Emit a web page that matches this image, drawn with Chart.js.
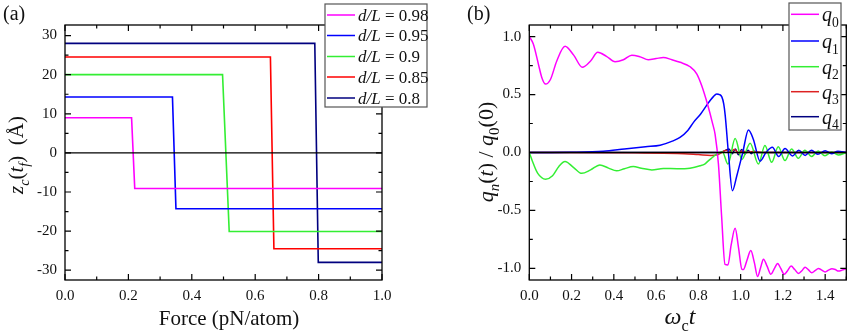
<!DOCTYPE html>
<html>
<head>
<meta charset="utf-8">
<script src="https://cdn.jsdelivr.net/npm/chart.js@4"></script>
<style>
  body { margin: 0; background: #fff; }
  #wrap { position: relative; width: 850px; height: 336px; }
  #chartA { position: absolute; left: 0; top: 0; }
  #chartB { position: absolute; left: 430px; top: 0; }
</style>
</head>
<body>
<div id="wrap">
  <canvas id="chartA" width="430" height="336"></canvas>
  <canvas id="chartB" width="420" height="336"></canvas>
</div>
<script>
// ---- panel (a): final centre position vs. applied force ----
const forceTicks = [0, 0.2, 0.4, 0.6, 0.8, 1.0];
const forceMinor = [0.1, 0.3, 0.5, 0.7, 0.9];
const zcTicks = [-30, -20, -10, 0, 10, 20, 30];
const zcMinor = [-25, -15, -5, 5, 15, 25];

const dlLabels = ['0.98', '0.95', '0.9', '0.85', '0.8'];
const dlColors = ['#ff00ff', '#0000ff', '#33ee33', '#ff0000', '#00007f'];
const dl098X = [0, 0.21, 0.22, 1.0];
const dl098Y = [9.0, 9.0, -9.1, -9.1];
const dl095X = [0, 0.339, 0.35, 1.0];
const dl095Y = [14.3, 14.3, -14.3, -14.3];
const dl090X = [0, 0.497, 0.518, 1.0];
const dl090Y = [20.0, 20.0, -20.1, -20.1];
const dl085X = [0, 0.648, 0.659, 1.0];
const dl085Y = [24.5, 24.5, -24.5, -24.5];
const dl080X = [0, 0.788, 0.799, 1.0];
const dl080Y = [28.0, 28.0, -28.0, -28.0];

// ---- panel (b): mode amplitudes vs. time ----
const timeTicks = [0, 0.2, 0.4, 0.6, 0.8, 1.0, 1.2, 1.4];
const timeMinor = [0.1, 0.3, 0.5, 0.7, 0.9, 1.1, 1.3, 1.5];
const qTicks = [-1.0, -0.5, 0, 0.5, 1.0];
const qMinor = [-0.75, -0.25, 0.25, 0.75];

const qLabels = ['0', '1', '2', '3', '4'];
const qColors = ['#ff00ff', '#0000ff', '#33ee33', '#dd2222', '#00007f'];

const q0T = [0, 0.019, 0.043, 0.059, 0.077, 0.10, 0.13, 0.169, 0.21, 0.251, 0.29, 0.324, 0.365, 0.406, 0.445, 0.485, 0.525, 0.563, 0.60, 0.634, 0.675, 0.714, 0.761, 0.793, 0.816, 0.843, 0.868, 0.879, 0.895, 0.91, 0.926, 0.94, 0.955, 0.974, 0.99, 1.006, 1.013, 1.03, 1.048, 1.065, 1.08, 1.095, 1.108, 1.125, 1.143, 1.16, 1.175, 1.19, 1.206, 1.222, 1.239, 1.256, 1.274, 1.29, 1.305, 1.32, 1.337, 1.352, 1.368, 1.384, 1.40, 1.416, 1.432, 1.448, 1.463, 1.48, 1.498];
const q0V = [1.0, 0.936, 0.763, 0.648, 0.59, 0.63, 0.79, 0.916, 0.84, 0.735, 0.79, 0.864, 0.83, 0.783, 0.80, 0.84, 0.825, 0.80, 0.81, 0.82, 0.80, 0.778, 0.74, 0.677, 0.576, 0.418, 0.245, 0.158, -0.1, -0.55, -0.965, -0.97, -0.80, -0.654, -0.82, -1.008, -1.01, -0.93, -0.845, -0.95, -1.07, -0.99, -0.92, -0.98, -1.05, -1.0, -0.957, -1.0, -1.05, -1.02, -0.98, -1.01, -1.043, -1.02, -0.99, -1.01, -1.037, -1.02, -1.0, -1.015, -1.03, -1.015, -1.003, -1.01, -1.023, -1.015, -1.003];

const q1T = [0, 0.2, 0.35, 0.45, 0.55, 0.619, 0.68, 0.713, 0.75, 0.777, 0.81, 0.848, 0.87, 0.887, 0.9, 0.911, 0.92, 0.927, 0.942, 0.961, 0.982, 1.01, 1.037, 1.06, 1.092, 1.12, 1.15, 1.18, 1.21, 1.245, 1.275, 1.305, 1.335, 1.365, 1.40, 1.43, 1.46, 1.5];
const q1V = [0, 0.002, 0.01, 0.03, 0.05, 0.063, 0.10, 0.13, 0.19, 0.26, 0.33, 0.43, 0.48, 0.505, 0.50, 0.48, 0.42, 0.32, 0.0, -0.33, -0.2, 0.0, 0.195, 0.115, -0.075, 0.0, 0.045, -0.035, 0.035, -0.03, 0.02, -0.025, 0.02, -0.015, 0.015, -0.01, 0.01, 0.0];

const q2T = [0, 0.02, 0.04, 0.077, 0.11, 0.14, 0.169, 0.21, 0.248, 0.29, 0.334, 0.375, 0.413, 0.45, 0.492, 0.53, 0.58, 0.634, 0.70, 0.76, 0.808, 0.83, 0.847, 0.865, 0.886, 0.914, 0.94, 0.974, 1.006, 1.045, 1.084, 1.115, 1.147, 1.178, 1.21, 1.241, 1.273, 1.304, 1.336, 1.367, 1.399, 1.43, 1.462, 1.5];
const q2V = [0, -0.1, -0.18, -0.23, -0.2, -0.12, -0.078, -0.13, -0.18, -0.15, -0.107, -0.135, -0.158, -0.14, -0.121, -0.135, -0.15, -0.138, -0.14, -0.135, -0.115, -0.10, -0.072, -0.045, -0.014, 0.005, -0.1, 0.12, -0.06, 0.08, -0.1, 0.06, -0.085, 0.05, -0.07, 0.03, -0.05, 0.02, -0.035, 0.012, -0.028, 0.005, -0.022, 0.0];

const q3T = [0, 0.5, 0.7, 0.8, 0.86, 0.89, 0.91, 0.93, 0.95, 0.97, 0.99, 1.01, 1.03, 1.06, 1.1, 1.5];
const q3V = [0, -0.003, -0.008, -0.018, -0.025, -0.02, 0.0, 0.02, 0.005, 0.025, -0.005, 0.015, 0.0, 0.008, 0, 0];

const q4T = [0, 0.9, 0.93, 0.945, 0.96, 0.975, 0.99, 1.005, 1.02, 1.035, 1.05, 1.065, 1.08, 1.1, 1.5];
const q4V = [0, 0, 0.02, 0.03, -0.01, 0.03, -0.02, 0.025, -0.015, 0.02, -0.01, 0.01, 0, 0, 0];

const SERIF = '"Liberation Serif", "DejaVu Serif", serif';

function pts(xs, ys) {
  return xs.map((x, i) => ({ x: x, y: ys[i] }));
}

// draws a run of text pieces; piece = {t, it, sub}
function richWidth(ctx, parts, size) {
  let w = 0;
  for (const p of parts) {
    const s = p.sub ? size * 0.68 : size;
    ctx.font = (p.it ? 'italic ' : '') + s + 'px ' + SERIF;
    w += ctx.measureText(p.t).width;
  }
  return w;
}
function drawRich(ctx, parts, size, cx, cy) {
  const w = richWidth(ctx, parts, size);
  let x = cx - w / 2;
  ctx.textBaseline = 'alphabetic';
  ctx.textAlign = 'left';
  for (const p of parts) {
    const s = p.sub ? size * 0.68 : size;
    ctx.font = (p.it ? 'italic ' : '') + s + 'px ' + SERIF;
    ctx.fillText(p.t, x, cy + size * 0.35 + (p.sub ? size * 0.28 : 0));
    x += ctx.measureText(p.t).width;
  }
}
function drawRichLeft(ctx, parts, size, x, cy) {
  const w = richWidth(ctx, parts, size);
  drawRich(ctx, parts, size, x + w / 2, cy);
}

// frame, inward ticks on four sides, zero line, labels and legend
function decorPlugin(cfg) {
  return {
    id: 'decor',
    afterDraw(chart) {
      const ctx = chart.ctx;
      const a = chart.chartArea;
      const xs = chart.scales.x, ys = chart.scales.y;
      ctx.save();
      ctx.strokeStyle = '#000';
      ctx.fillStyle = '#000';
      ctx.lineWidth = 1.3;
      // zero line
      if (cfg.zeroLine) {
        const y0 = ys.getPixelForValue(0);
        ctx.beginPath();
        ctx.moveTo(a.left, y0);
        ctx.lineTo(a.right, y0);
        ctx.stroke();
      }
      ctx.strokeRect(a.left, a.top, a.right - a.left, a.bottom - a.top);
      ctx.lineWidth = 1.2;
      const tick = (vals, len, horiz) => {
        for (const v of vals) {
          ctx.beginPath();
          if (horiz) {
            const px = xs.getPixelForValue(v);
            ctx.moveTo(px, a.bottom); ctx.lineTo(px, a.bottom - len);
            ctx.moveTo(px, a.top); ctx.lineTo(px, a.top + len);
          } else {
            const py = ys.getPixelForValue(v);
            ctx.moveTo(a.left, py); ctx.lineTo(a.left + len, py);
            ctx.moveTo(a.right, py); ctx.lineTo(a.right - len, py);
          }
          ctx.stroke();
        }
      };
      tick(cfg.xMajor, 6, true);
      tick(cfg.xMinor, 3.5, true);
      tick(cfg.yMajor, 6, false);
      tick(cfg.yMinor, 3.5, false);

      // panel letter
      ctx.fillStyle = '#111';
      ctx.font = '20px ' + SERIF;
      ctx.textAlign = 'left';
      ctx.textBaseline = 'middle';
      ctx.fillText(cfg.panel, cfg.panelX, 15);

      // axis titles
      drawRich(ctx, cfg.xTitle, cfg.xTitleSize, cfg.xTitleX, cfg.xTitleY);
      ctx.save();
      ctx.translate(cfg.yTitleX, cfg.yTitleY);
      ctx.rotate(-Math.PI / 2);
      drawRich(ctx, cfg.yTitle, cfg.yTitleSize, 0, 0);
      ctx.restore();

      // legend box
      const L = cfg.legend;
      ctx.fillStyle = '#fff';
      ctx.fillRect(L.x, L.y, L.w, L.h);
      ctx.strokeStyle = '#555';
      ctx.lineWidth = 1.2;
      ctx.strokeRect(L.x, L.y, L.w, L.h);
      chart.data.datasets.forEach((ds, i) => {
        const ry = L.rows[i];
        ctx.strokeStyle = ds.borderColor;
        ctx.lineWidth = 1.5;
        ctx.beginPath();
        ctx.moveTo(L.x + 2, ry);
        ctx.lineTo(L.x + L.lineLen, ry);
        ctx.stroke();
        ctx.fillStyle = '#111';
        drawRichLeft(ctx, L.text(i), L.size, L.x + L.lineLen + 3, ry);
      });
      ctx.restore();
    }
  };
}

function baseScales(xMin, xMax, yMin, yMax, xt, yt, yWidth, fmt) {
  const tickFont = { family: SERIF, size: 15 };
  return {
    x: {
      type: 'linear', min: xMin, max: xMax,
      grid: { display: false, drawTicks: false },
      border: { display: false },
      afterBuildTicks: s => { s.ticks = xt.map(v => ({ value: v })); },
      afterFit: s => { s.height = 56; },
      ticks: { font: tickFont, color: '#111', padding: 7, maxRotation: 0, callback: v => v.toFixed(1) }
    },
    y: {
      type: 'linear', min: yMin, max: yMax,
      grid: { display: false, drawTicks: false },
      border: { display: false },
      afterBuildTicks: s => { s.ticks = yt.map(v => ({ value: v })); },
      afterFit: s => { s.width = yWidth; },
      ticks: { font: tickFont, color: '#111', padding: 8, callback: fmt }
    }
  };
}

const commonOpts = {
  responsive: false,
  animation: false,
  events: [],
  plugins: { legend: { display: false }, tooltip: { enabled: false } },
  elements: { point: { radius: 0 } }
};

// panel (a)
const aSeries = [[dl098X, dl098Y], [dl095X, dl095Y], [dl090X, dl090Y], [dl085X, dl085Y], [dl080X, dl080Y]];
new Chart(document.getElementById('chartA').getContext('2d'), {
  type: 'line',
  data: {
    datasets: aSeries.map((s, i) => ({
      label: 'd/L = ' + dlLabels[i],
      data: pts(s[0], s[1]),
      borderColor: dlColors[i],
      borderWidth: 1.6,
      tension: 0,
      fill: false
    }))
  },
  options: Object.assign({}, commonOpts, {
    layout: { padding: { top: 25, right: 48, left: 0, bottom: 0 } },
    scales: baseScales(0, 1, -32.5, 32.7, forceTicks, zcTicks, 65, v => String(v))
  }),
  plugins: [decorPlugin({
    zeroLine: true,
    xMajor: forceTicks, xMinor: forceMinor, yMajor: zcTicks, yMinor: zcMinor,
    panel: '(a)', panelX: 3,
    xTitle: [{ t: 'Force (pN/atom)' }], xTitleSize: 21, xTitleX: 229, xTitleY: 318,
    yTitle: [{ t: 'z', it: true }, { t: 'c', it: true, sub: true }, { t: '(' }, { t: 't', it: true },
             { t: 'f', it: true, sub: true }, { t: ')  (Å)' }],
    yTitleSize: 21, yTitleX: 16, yTitleY: 155,
    legend: {
      x: 325, y: 4, w: 102, h: 103, lineLen: 30, size: 17,
      rows: [15, 35.5, 56.5, 77, 98],
      text: i => [{ t: 'd/L', it: true }, { t: ' = ' + dlLabels[i] }]
    }
  })]
});

// panel (b)
const bSeries = [[q0T, q0V], [q1T, q1V], [q2T, q2V], [q3T, q3V], [q4T, q4V]];
new Chart(document.getElementById('chartB').getContext('2d'), {
  type: 'line',
  data: {
    datasets: bSeries.map((s, i) => ({
      label: 'q' + qLabels[i],
      data: pts(s[0], s[1]),
      borderColor: qColors[i],
      borderWidth: 1.5,
      cubicInterpolationMode: 'monotone',
      fill: false
    }))
  },
  options: Object.assign({}, commonOpts, {
    layout: { padding: { top: 25, right: 3.7, left: 0, bottom: 0 } },
    scales: baseScales(0, 1.5, -1.1, 1.1, timeTicks, qTicks, 99.3, v => v.toFixed(1))
  }),
  plugins: [decorPlugin({
    zeroLine: true,
    xMajor: timeTicks, xMinor: timeMinor, yMajor: qTicks, yMinor: qMinor,
    panel: '(b)', panelX: 37,
    xTitle: [{ t: 'ω', it: true }, { t: 'c', sub: true }, { t: 't', it: true }], xTitleSize: 24,
    xTitleX: 250, xTitleY: 316,
    yTitle: [{ t: 'q', it: true }, { t: 'n', it: true, sub: true }, { t: '(' }, { t: 't', it: true },
             { t: ') / ' }, { t: 'q', it: true }, { t: '0', sub: true }, { t: '(0)' }],
    yTitleSize: 22, yTitleX: 55, yTitleY: 152,
    legend: {
      x: 359, y: 3, w: 52, h: 127, lineLen: 30, size: 20,
      rows: [14.3, 41, 66.7, 91.7, 116.7],
      text: i => [{ t: 'q', it: true }, { t: qLabels[i], sub: true }]
    }
  })]
});
</script>
</body>
</html>
